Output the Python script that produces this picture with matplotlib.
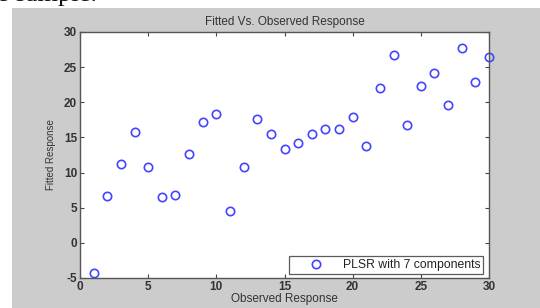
import matplotlib
matplotlib.use("Agg")
import matplotlib.pyplot as plt
from matplotlib.patches import Rectangle

observed = list(range(1, 31))
fitted = [-4.3, 6.7, 11.2, 15.8, 10.75, 6.55, 6.8, 12.6, 17.2, 18.4,
          4.5, 10.75, 17.6, 15.45, 13.4, 14.25, 15.45, 16.25, 16.25, 17.9,
          13.8, 22.0, 26.7, 16.8, 22.35, 24.15, 19.65, 27.7, 22.9, 26.4]
xticks = [0, 5, 10, 15, 20, 25, 30]
yticks = [-5, 0, 5, 10, 15, 20, 25, 30]

plt.rcParams['font.family'] = ['Liberation Sans', 'DejaVu Sans']
plt.rcParams['axes.unicode_minus'] = False
fig = plt.figure(figsize=(5.4, 3.08), dpi=100, facecolor='white')
fig.patches.append(Rectangle((12/540, 0), 1, 300/308, transform=fig.transFigure,
                             facecolor='#cccccc', edgecolor='none', zorder=-10))
fig.text(-3/540, 1 - 0.5/308, "e sample.", family='Liberation Serif', fontsize=19,
         ha='left', va='baseline', color='#111111')

ax = fig.add_axes([80/540, 30/308, 409/540, 246/308])
ax.set_facecolor('white')
ax.plot(observed, fitted, linestyle='none', marker='o', markersize=6.0,
        markerfacecolor='none', markeredgecolor='#4444ff', markeredgewidth=1.2,
        label='PLSR with 7 components', clip_on=False)
ax.set_xlim(0, 30)
ax.set_ylim(-5, 30)
ax.set_xticks(xticks)
ax.set_yticks(yticks)
ax.tick_params(direction='in', length=3, width=0.8, top=True, right=True,
               labelsize=8.5, labelcolor='#333333', colors='#444444', pad=2)
for lab in ax.get_xticklabels() + ax.get_yticklabels():
    lab.set_fontweight('bold')
for s in ax.spines.values():
    s.set_color('#555555')
    s.set_linewidth(1.0)
ax.set_title('Fitted Vs. Observed Response', fontsize=8.5, color='#333333', pad=5)
ax.set_xlabel('Observed Response', fontsize=8.5, color='#333333', labelpad=0)
ax.set_ylabel('Fitted Response', fontsize=7, color='#333333', labelpad=6)
leg = ax.legend(loc='lower right', fontsize=8.8, frameon=True, fancybox=False,
                borderpad=0.25, handlelength=3.9, handletextpad=0.2,
                borderaxespad=0.3, bbox_to_anchor=(0.995, 0.0))
leg.get_frame().set_edgecolor('#333333')
leg.get_frame().set_linewidth(0.9)
for t in leg.get_texts():
    t.set_color('#222222')

fig.savefig('out.png', dpi=100, facecolor=fig.get_facecolor())
